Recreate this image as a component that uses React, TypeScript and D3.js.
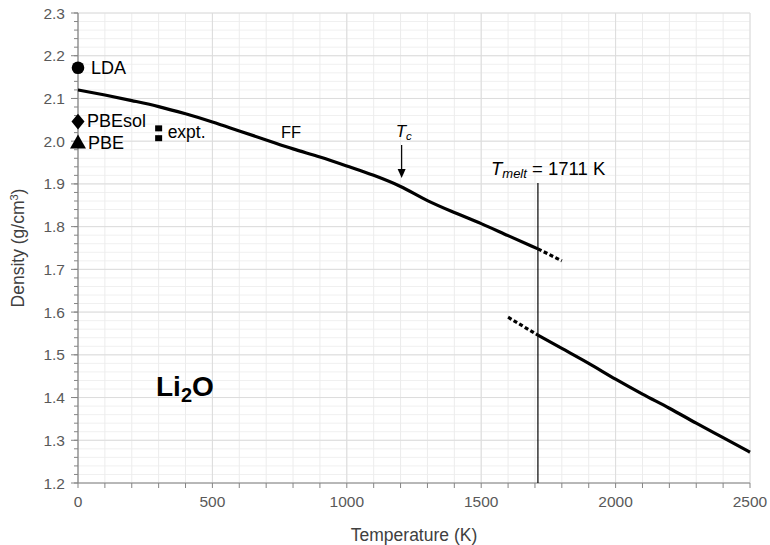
import React from 'react';
import * as d3 from 'd3';

// solid (crystal) branch, FF model
const solidT = [0, 100, 200, 300, 400, 500, 600, 700, 800, 900, 1000, 1100, 1200, 1300, 1400, 1500, 1600, 1711];
const solidRho = [2.12, 2.108, 2.095, 2.081, 2.064, 2.045, 2.024, 2.003, 1.982, 1.963, 1.942, 1.92, 1.894, 1.861, 1.833, 1.807, 1.779, 1.748];
const solidExtT = [1711, 1800];
const solidExtRho = [1.748, 1.72];

// liquid branch
const liquidExtT = [1600, 1711];
const liquidExtRho = [1.588, 1.546];
const liquidT = [1711, 1800, 1900, 2000, 2100, 2200, 2300, 2400, 2500];
const liquidRho = [1.546, 1.515, 1.48, 1.443, 1.408, 1.375, 1.34, 1.306, 1.272];

// DFT values at 0 K and experiment at 300 K
const dftLabels = ['LDA', 'PBEsol', 'PBE'];
const dftRho = [2.172, 2.046, 1.995];
const exptT = [300, 300];
const exptRho = [2.03, 2.007];

const xTicks = [0, 500, 1000, 1500, 2000, 2500];
const yTicks = [1.2, 1.3, 1.4, 1.5, 1.6, 1.7, 1.8, 1.9, 2.0, 2.1, 2.2, 2.3];
const tMelt = 1711;
const tC = 1204;

const W = 770;
const H = 545;
const FONT = '"Liberation Sans", Arial, sans-serif';

const App = () => {
  const margin = { top: 13, right: 20, bottom: 62, left: 78 };
  const x = d3.scaleLinear().domain([0, 2500]).range([margin.left, W - margin.right]);
  const y = d3.scaleLinear().domain([1.2, 2.3]).range([H - margin.bottom, margin.top]);

  const line = d3.line<[number, number]>()
    .x(d => x(d[0]))
    .y(d => y(d[1]))
    .curve(d3.curveMonotoneX);
  const zip = (a: number[], b: number[]) => a.map((v, i) => [v, b[i]] as [number, number]);

  const minorX = d3.range(0, 2501, 100);
  const minorY = d3.range(1.2, 2.3001, 0.02);

  const x0 = x(0);
  const y0 = y(1.2);
  const xm = x(tMelt);

  return (
    <div style={{ position: 'absolute', left: 0, top: 0 }}>
      <svg width={W} height={H} style={{ display: 'block', background: '#fff' }} fontFamily={FONT}>
        {/* grid */}
        {minorY.map((v, i) => (
          <line key={'my' + i} x1={x0} x2={x(2500)} y1={y(v)} y2={y(v)} stroke="#f0f0f0" strokeWidth={1} />
        ))}
        {minorX.map(v => (
          <line key={'mx' + v} x1={x(v)} x2={x(v)} y1={y(2.3)} y2={y0} stroke="#ececec" strokeWidth={1} />
        ))}
        {yTicks.map(v => (
          <line key={'gy' + v} x1={x0} x2={x(2500)} y1={y(v)} y2={y(v)} stroke="#dcdcdc" strokeWidth={1} />
        ))}
        {xTicks.map(v => (
          <line key={'gx' + v} x1={x(v)} x2={x(v)} y1={y(2.3)} y2={y0} stroke="#dcdcdc" strokeWidth={1} />
        ))}

        {/* axes */}
        <line x1={x0} x2={x0} y1={y(2.3)} y2={y0} stroke="#858585" strokeWidth={1.2} />
        <line x1={x0} x2={x(2500)} y1={y0} y2={y0} stroke="#858585" strokeWidth={1.2} />
        {minorY.map((v, i) => (
          <line key={'ty' + i} x1={x0 - 4} x2={x0} y1={y(v)} y2={y(v)} stroke="#858585" strokeWidth={1} />
        ))}
        {yTicks.map(v => (
          <line key={'tY' + v} x1={x0 - 7} x2={x0} y1={y(v)} y2={y(v)} stroke="#858585" strokeWidth={1} />
        ))}
        {minorX.map(v => (
          <line key={'tx' + v} x1={x(v)} x2={x(v)} y1={y0} y2={y0 + 5} stroke="#858585" strokeWidth={1} />
        ))}
        {yTicks.map(v => (
          <text key={'ly' + v} x={x0 - 13} y={y(v)} dy="0.36em" textAnchor="end" fontSize={15.5} fill="#595959">
            {d3.format('.1f')(v)}
          </text>
        ))}
        {xTicks.map(v => (
          <text key={'lx' + v} x={x(v)} y={y0 + 24} textAnchor="middle" fontSize={15.5} fill="#595959">
            {v}
          </text>
        ))}
        <text x={(x0 + x(2500)) / 2} y={541} textAnchor="middle" fontSize={17.5} fill="#404040">
          Temperature (K)
        </text>
        <text transform={`translate(24,${(y(2.3) + y0) / 2}) rotate(-90)`} textAnchor="middle" fontSize={17.5} fill="#404040">
          Density (g/cm<tspan dy={-6} fontSize={11}>3</tspan><tspan dy={6}>)</tspan>
        </text>

        {/* melting line */}
        <line x1={xm} x2={xm} y1={183} y2={y0} stroke="#000" strokeWidth={1.2} />

        {/* curves */}
        <path d={line(zip(solidT, solidRho)) ?? ''} fill="none" stroke="#000" strokeWidth={3.2} strokeLinejoin="round" />
        <path d={line(zip(solidExtT, solidExtRho)) ?? ''} fill="none" stroke="#000" strokeWidth={3.2} strokeDasharray="4,2.5" />
        <path d={line(zip(liquidExtT, liquidExtRho)) ?? ''} fill="none" stroke="#000" strokeWidth={3.2} strokeDasharray="4,2.5" />
        <path d={line(zip(liquidT, liquidRho)) ?? ''} fill="none" stroke="#000" strokeWidth={3.2} strokeLinejoin="round" />

        {/* DFT markers */}
        <circle cx={x(0)} cy={y(dftRho[0])} r={6.3} fill="#000" />
        <path
          d={d3.symbol().type(d3.symbolDiamond2).size(120)() ?? ''}
          transform={`translate(${x(0)},${y(dftRho[1])}) scale(0.95,1.15)`}
          fill="#000"
        />
        <path
          d={d3.symbol().type(d3.symbolTriangle).size(110)() ?? ''}
          transform={`translate(${x(0)},${y(dftRho[2]) + 0.5})`}
          fill="#000"
        />
        {exptT.map((t, i) => (
          <rect key={'e' + i} x={x(t) - 3.5} y={y(exptRho[i]) - 3} width={7} height={6} fill="#000" />
        ))}

        {/* labels */}
        <text x={x(0) + 13} y={y(dftRho[0]) + 6} fontSize={18} fill="#000">{dftLabels[0]}</text>
        <text x={x(0) + 9} y={y(dftRho[1]) + 5} fontSize={18} fill="#000">{dftLabels[1]}</text>
        <text x={x(0) + 10} y={y(dftRho[2]) + 6} fontSize={18} fill="#000">{dftLabels[2]}</text>
        <text x={x(300) + 9} y={y(2.012) + 2} fontSize={17.5} fill="#000">expt.</text>
        <text x={281} y={138} fontSize={16.5} fill="#000">FF</text>

        <text x={x(tC) - 6} y={137} fontSize={17} fill="#000">
          <tspan fontStyle="italic">T</tspan>
          <tspan fontStyle="italic" fontSize={11.5} dy={3}>c</tspan>
        </text>
        <line x1={x(tC)} x2={x(tC)} y1={145} y2={170} stroke="#000" strokeWidth={1.2} />
        <path d={`M${x(tC) - 4},${169} L${x(tC) + 4},${169} L${x(tC)},${178} Z`} fill="#000" />

        <text x={491} y={175} fontSize={18.5} fill="#000">
          <tspan fontStyle="italic">T</tspan>
          <tspan fontStyle="italic" fontSize={13} dy={3}>melt</tspan>
          <tspan dy={-3}> = 1711 K</tspan>
        </text>

        <text x={156} y={396} fontSize={28} fontWeight="bold" fill="#000">
          Li<tspan fontSize={20} dy={6}>2</tspan><tspan dy={-6}>O</tspan>
        </text>
      </svg>
    </div>
  );
};

export default App;
